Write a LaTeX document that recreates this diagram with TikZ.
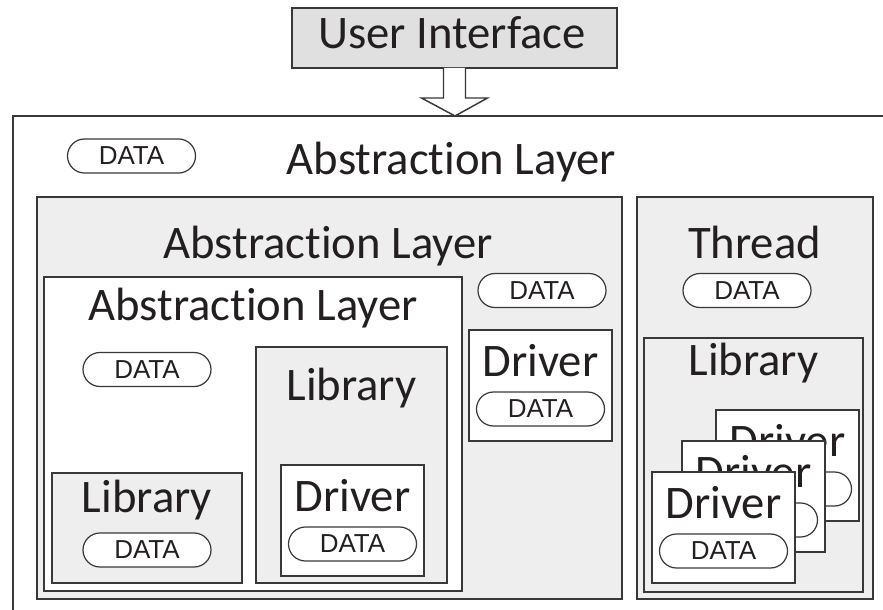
\documentclass[tikz,border=0pt]{standalone}
\usepackage{fontspec}
\setmainfont{Carlito}[Ligatures={NoCommon,NoContextual}]
\newfontfamily\datafont{Liberation Sans}
\usetikzlibrary{shapes.misc,calc}
\definecolor{edge}{HTML}{383838}
\definecolor{layergray}{HTML}{EEEEEE}
\definecolor{uigray}{HTML}{E0E0E0}
\definecolor{ink}{HTML}{231F20}
\newcommand\abslayer{Abstract\kern0pt ion Layer}
\tikzset{
  box/.style={draw=edge, line width=1.1pt, inner sep=0pt, outer sep=0pt, anchor=north west},
  graybox/.style={box, fill=layergray},
  whitebox/.style={box, fill=white},
  uibox/.style={box, fill=uigray},
  title/.style={font=\fontsize{35}{40}\selectfont, text=ink, inner sep=0pt, anchor=base},
  pill/.style={draw=edge, line width=0.9pt, rounded rectangle, fill=white,
    minimum width=96pt, minimum height=25.5pt, inner sep=0pt,
    font=\datafont\fontsize{19.5}{21}\selectfont, text=ink},
  hollowarrow/.style={draw=edge, line width=1.1pt, fill=white, line join=miter},
  driverpic/.pic={
    \node[whitebox, minimum width=107.25pt, minimum height=83.25pt] (-box) at (0,0) {};
    \node[title] (-t) at (71.5,46) {Driver};
    \node[pill] (-d) at (71.5,79) {DATA};
  }
}
\begin{document}
\begin{tikzpicture}[x=0.75pt, y=-0.75pt]
\useasboundingbox (0,0) rectangle (883,610);
\clip (0,0) rectangle (883,610);
\fill[white] (0,0) rectangle (883,610);

% User interface
\node[uibox, minimum width=325*0.75pt, minimum height=60*0.75pt] (ui) at (292,8) {};
\node[title] (uit) at (452,49) {User Interface};

% outer abstraction layer (extends beyond right and bottom)
\node[whitebox, minimum width=900*0.75pt, minimum height=600*0.75pt] (al1) at (13,116) {};
\node[title] (al1t) at (451.5,175) {\abslayer};
\node[pill] (al1d) at (131.5,156) {DATA};

% arrow
\coordinate (tip) at (455,116);
\draw[hollowarrow] ($(ui.south)+(-11,0)$) -- ++(0,30) -- ++(-22,0) -- (tip)
  -- ($(ui.south)+(33,30)$) -- ++(-22,0) -- ($(ui.south)+(11,0)$);

% second abstraction layer
\node[graybox, minimum width=585*0.75pt, minimum height=402*0.75pt] (al2) at (37,197) {};
\node[title] (al2t) at (328,258) {\abslayer};
\node[pill] (al2d) at (542,290.5) {DATA};
\pic (drA) at (469,330) {driverpic};

% third abstraction layer
\node[whitebox, minimum width=418*0.75pt, minimum height=314*0.75pt] (al3) at (44,277) {};
\node[title] (al3t) at (253,320) {\abslayer};
\node[pill] (al3d) at (147,369.5) {DATA};

% library right (in al3)
\node[graybox, minimum width=191*0.75pt, minimum height=236*0.75pt] (libR) at (256,347) {};
\node[title] (libRt) at (351.5,400) {Library};
\pic (drB) at (281,465) {driverpic};

% library left (in al3)
\node[graybox, minimum width=190*0.75pt, minimum height=110*0.75pt] (libL) at (52,473) {};
\node[title] (libLt) at (147,512) {Library};
\node[pill] (libLd) at (147,550) {DATA};

% thread
\node[graybox, minimum width=236*0.75pt, minimum height=402*0.75pt] (thr) at (637,197) {};
\node[title] (thrt) at (754.5,258) {Thread};
\node[pill] (thrd) at (747,290.5) {DATA};

\node[graybox, minimum width=219*0.75pt, minimum height=254*0.75pt] (libT) at (644,338) {};
\node[title] (libTt) at (753.5,375) {Library};
\pic (drC) at (716,410) {driverpic};
\pic (drD) at (682,441) {driverpic};
\pic (drE) at (652,472) {driverpic};
\end{tikzpicture}
\end{document}
